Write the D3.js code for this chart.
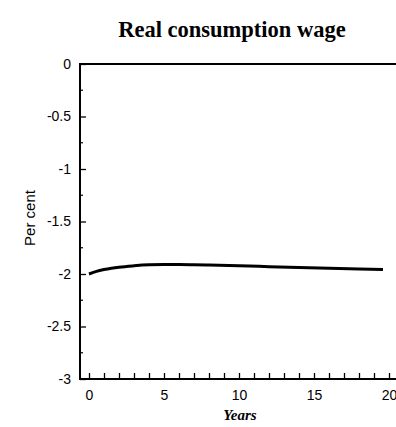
<!DOCTYPE html>
<html>
<head>
<meta charset="utf-8">
<script src="https://cdn.jsdelivr.net/npm/d3@7"></script>
<style>
  html, body { margin: 0; padding: 0; background: #fff; }
  svg { display: block; }
</style>
</head>
<body>
<svg id="chart" width="396" height="427"></svg>
<script>
// Response of the real consumption wage, per cent deviation from baseline
const years = [0, 0.5, 1, 1.5, 2, 3, 4, 5, 6, 7, 8, 10, 12, 14, 16, 18, 19.6];
const wage  = [-2.0, -1.975, -1.958, -1.945, -1.935, -1.922, -1.913, -1.91, -1.91, -1.912, -1.915, -1.922, -1.93, -1.938, -1.945, -1.952, -1.957];
const baselineYears = [-0.6, 20.5];
const baselineValues = [0, 0];
const yTicks = [0, -0.5, -1, -1.5, -2, -2.5, -3];
const yMinorTicks = [-0.25, -0.75, -1.25, -1.75, -2.25, -2.75];
const xTicks = d3.range(0, 21, 1);
const xLabels = [0, 5, 10, 15, 20];

const svg = d3.select("#chart");
const x = d3.scaleLinear().domain([0, 20]).range([89, 389]);
const y = d3.scaleLinear().domain([0, -3]).range([64, 379]);

const axisLeftX = x(-0.6);
const axisRightX = 396;
const axisBottomY = y(-3);

// title
svg.append("text")
  .attr("x", 232).attr("y", 37)
  .attr("text-anchor", "middle")
  .attr("font-family", "'Liberation Serif', 'Times New Roman', serif")
  .attr("font-weight", "bold")
  .attr("font-size", 22.5)
  .text("Real consumption wage");

// y axis
const yAxis = d3.axisLeft(y).tickValues(yTicks).tickSize(-6).tickPadding(9)
  .tickFormat(d => String(d));
const gy = svg.append("g").attr("transform", `translate(${axisLeftX},0)`).call(yAxis);
gy.select(".domain").remove();
gy.selectAll(".tick line").attr("stroke", "#000").attr("stroke-width", 1.3);
gy.selectAll("text")
  .attr("font-family", "'Liberation Sans', Arial, sans-serif")
  .attr("font-size", 14).attr("fill", "#000");

svg.append("g").selectAll("line").data(yMinorTicks).join("line")
  .attr("x1", axisLeftX).attr("x2", axisLeftX + 3)
  .attr("y1", d => y(d)).attr("y2", d => y(d))
  .attr("stroke", "#000").attr("stroke-width", 1.2);

svg.append("line")
  .attr("x1", axisLeftX).attr("x2", axisLeftX)
  .attr("y1", y(0) - 1).attr("y2", axisBottomY + 1)
  .attr("stroke", "#000").attr("stroke-width", 2);

// x axis
const xAxis = d3.axisBottom(x).tickValues(xTicks).tickSize(-6).tickPadding(11)
  .tickFormat(d => xLabels.includes(d) ? String(d) : "");
const gx = svg.append("g").attr("transform", `translate(0,${axisBottomY})`).call(xAxis);
gx.select(".domain").remove();
gx.selectAll(".tick line").attr("stroke", "#000").attr("stroke-width", 1.3);
gx.selectAll("text")
  .attr("font-family", "'Liberation Sans', Arial, sans-serif")
  .attr("font-size", 14).attr("fill", "#000");

svg.append("line")
  .attr("x1", axisLeftX).attr("x2", axisRightX)
  .attr("y1", axisBottomY).attr("y2", axisBottomY)
  .attr("stroke", "#000").attr("stroke-width", 2);

// axis titles
svg.append("text")
  .attr("x", 240).attr("y", 420)
  .attr("text-anchor", "middle")
  .attr("font-family", "'Liberation Serif', 'Times New Roman', serif")
  .attr("font-style", "italic").attr("font-weight", "bold")
  .attr("font-size", 15)
  .text("Years");

svg.append("text")
  .attr("transform", "translate(35,218) rotate(-90)")
  .attr("text-anchor", "middle")
  .attr("font-family", "'Liberation Sans', Arial, sans-serif")
  .attr("font-size", 15)
  .text("Per cent");

// lines
const line = d3.line().x(d => x(d[0])).y(d => y(d[1])).curve(d3.curveMonotoneX);

svg.append("path")
  .datum(baselineYears.map((d, i) => [d, baselineValues[i]]))
  .attr("d", line).attr("fill", "none")
  .attr("stroke", "#000").attr("stroke-width", 2);

svg.append("path")
  .datum(years.map((d, i) => [d, wage[i]]))
  .attr("d", line).attr("fill", "none")
  .attr("stroke", "#000").attr("stroke-width", 3);
</script>
</body>
</html>
